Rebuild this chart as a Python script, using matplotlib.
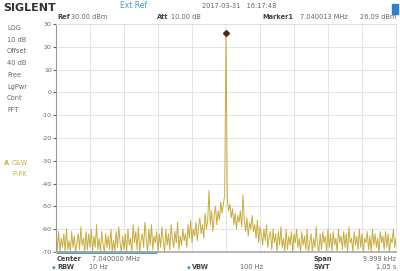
#!/usr/bin/env python3
# spectrum analyzer screen capture

import numpy as np
import matplotlib.pyplot as plt

# sweep: 7.040000 MHz centre, ~10 kHz span
center_mhz = 7.040000
span_khz = 9.999

peak_dbm = 26.09

# trace levels (dBm), left of the carrier
left_levels = [
    -63, -69, -61, -70, -64, -68, -62, -70, -60, -69,
    -65, -70, -61, -68, -63, -70, -66, -62, -69, -59,
    -67, -64, -70, -61, -69, -62, -68, -60, -70, -63,
    -68, -58, -69, -64, -70, -61, -67, -70, -62, -68,
    -63, -69, -60, -70, -65, -70, -61, -68, -59, -66,
    -70, -63, -69, -62, -70, -60, -67, -64, -70, -58,
    -66, -61, -69, -59, -70, -65, -62, -68, -57, -64,
    -70, -60, -67, -58, -69, -63, -66, -61, -70, -62,
    -68, -59, -65, -70, -60, -67, -62, -69, -58, -64,
    -68, -61, -66, -57, -69, -63, -67, -60, -65, -62,
    -68, -58, -64, -56, -66, -60, -63, -57, -65, -59,
    -55, -62, -58, -64, -53, -60, -56, -43, -58, -52,
    -61, -54, -50, -58, -52, -56, -48, -53, -49, -45,
]
# trace levels (dBm), right of the carrier
right_levels = [
    -47, -52, -49, -55, -51, -58, -53, -60, -54, -57,
    -52, -59, -45, -56, -61, -55, -63, -57, -60, -54,
    -61, -58, -64, -56, -66, -59, -62, -67, -60, -65,
    -58, -68, -63, -61, -69, -60, -66, -62, -70, -61,
    -67, -59, -68, -64, -70, -60, -69, -63, -67, -61,
    -70, -62, -66, -60, -68, -64, -70, -61, -67, -63,
    -69, -60, -70, -66, -62, -70, -64, -68, -59, -67,
    -70, -62, -69, -61, -66, -63, -70, -60, -68, -62,
    -70, -61, -67, -64, -70, -60, -66, -63, -69, -61,
    -68, -62, -70, -59, -66, -64, -70, -61, -67, -63,
    -69, -60, -68, -62, -70, -64, -66, -61, -69, -63,
    -70, -60, -67, -62, -68, -64, -70, -61, -66, -63,
    -69, -61, -68, -62, -70, -64, -66, -60, -68, -64,
]

y_ticks = [30, 20, 10, 0, -10, -20, -30, -40, -50, -60, -70]
side_labels = ["LOG", "10 dB", "Offset", "40 dB", "Free", "LgPwr", "Cont", "FFT"]

TRACE = "#c6ad3e"
GREY = "#666666"
TEAL = "#3a9cc4"


def main():
    fig = plt.figure(figsize=(4.0, 2.71), dpi=100)
    W, H = 400, 271
    ax = fig.add_axes([56 / W, (H - 252) / H, 340 / W, 228 / H])

    levels = left_levels + [peak_dbm] + right_levels
    freq = np.linspace(-span_khz / 2, span_khz / 2, len(levels))
    ax.plot(freq, levels, color=TRACE, lw=0.7)
    ax.plot([0], [peak_dbm], marker="D", ms=3, color="#4a2a10")

    ax.set_xlim(-span_khz / 2, span_khz / 2)
    ax.set_ylim(-70, 30)
    ax.set_xticks(np.linspace(-span_khz / 2, span_khz / 2, 11))
    ax.set_yticks(y_ticks)
    ax.set_xticklabels([])
    ax.set_yticklabels([str(t) for t in y_ticks])
    ax.tick_params(axis="y", length=2, pad=1, labelsize=4.5, colors=GREY)
    ax.tick_params(axis="x", length=0)
    ax.grid(True, color="#e0e0e0", lw=0.6)
    for s in ["top", "right"]:
        ax.spines[s].set_color("#e0e0e0")
        ax.spines[s].set_linewidth(0.6)
    ax.spines["left"].set_color("#999999")
    ax.spines["left"].set_linewidth(0.8)
    ax.spines["bottom"].set_color("#aaaaaa")
    ax.spines["bottom"].set_linewidth(1.2)
    # sweep progress bar along the bottom edge
    ax.plot([-span_khz / 2, -span_khz / 2 + span_khz * 0.297], [-70, -70],
            color="#2aa0b8", lw=2, clip_on=False, solid_capstyle="butt")

    def t(x, y, s, **kw):
        kw.setdefault("fontsize", 4.8)
        kw.setdefault("color", GREY)
        fig.text(x / W, 1 - y / H, s, va="center", **kw)

    # header
    t(3, 8, "SIGLENT", fontsize=8, weight="bold", color="#333333")
    t(120, 6, "Ext Ref", fontsize=5.5, color=TEAL)
    t(202, 6, "2017-03-31   16:17:48", fontsize=4.8)
    fig.patches.append(plt.Rectangle((392 / W, 1 - 14 / H), 6 / W, 10 / H,
                                     transform=fig.transFigure,
                                     color="#2a7fd0", figure=fig))

    t(57, 17, "Ref", weight="bold", color="#444444")
    t(71, 17, "30.00 dBm")
    t(157, 17, "Att", weight="bold", color="#444444")
    t(171, 17, "10.00 dB")
    t(262, 17, "Marker1", weight="bold", color="#444444")
    t(300, 17, "7.040013 MHz")
    t(396, 17, "26.09 dBm", ha="right")

    # left panel
    for i, s in enumerate(side_labels):
        t(7, 28 + i * 11.7, s)
    t(4, 163, "A", color=TRACE, weight="bold")
    t(12, 163, "C&W", color=TRACE)
    t(12, 174, "P-PK", color=TRACE)

    # footer
    t(57, 259, "Center", weight="bold", color="#444444")
    t(92, 259, "7.040000 MHz")
    t(313, 259, "Span", weight="bold", color="#444444")
    t(396, 259, "9.999 kHz", ha="right")
    t(52, 267, "◆", color=TEAL, fontsize=3.5)
    t(57, 267, "RBW", weight="bold", color="#444444")
    t(108, 267, "10 Hz", ha="right")
    t(187, 267, "◆", color=TEAL, fontsize=3.5)
    t(192, 267, "VBW", weight="bold", color="#444444")
    t(240, 267, "100 Hz")
    t(313, 267, "SWT", weight="bold", color="#444444")
    t(396, 267, "1.05 s", ha="right")

    fig.savefig("out.png", dpi=100)


if __name__ == "__main__":
    main()
